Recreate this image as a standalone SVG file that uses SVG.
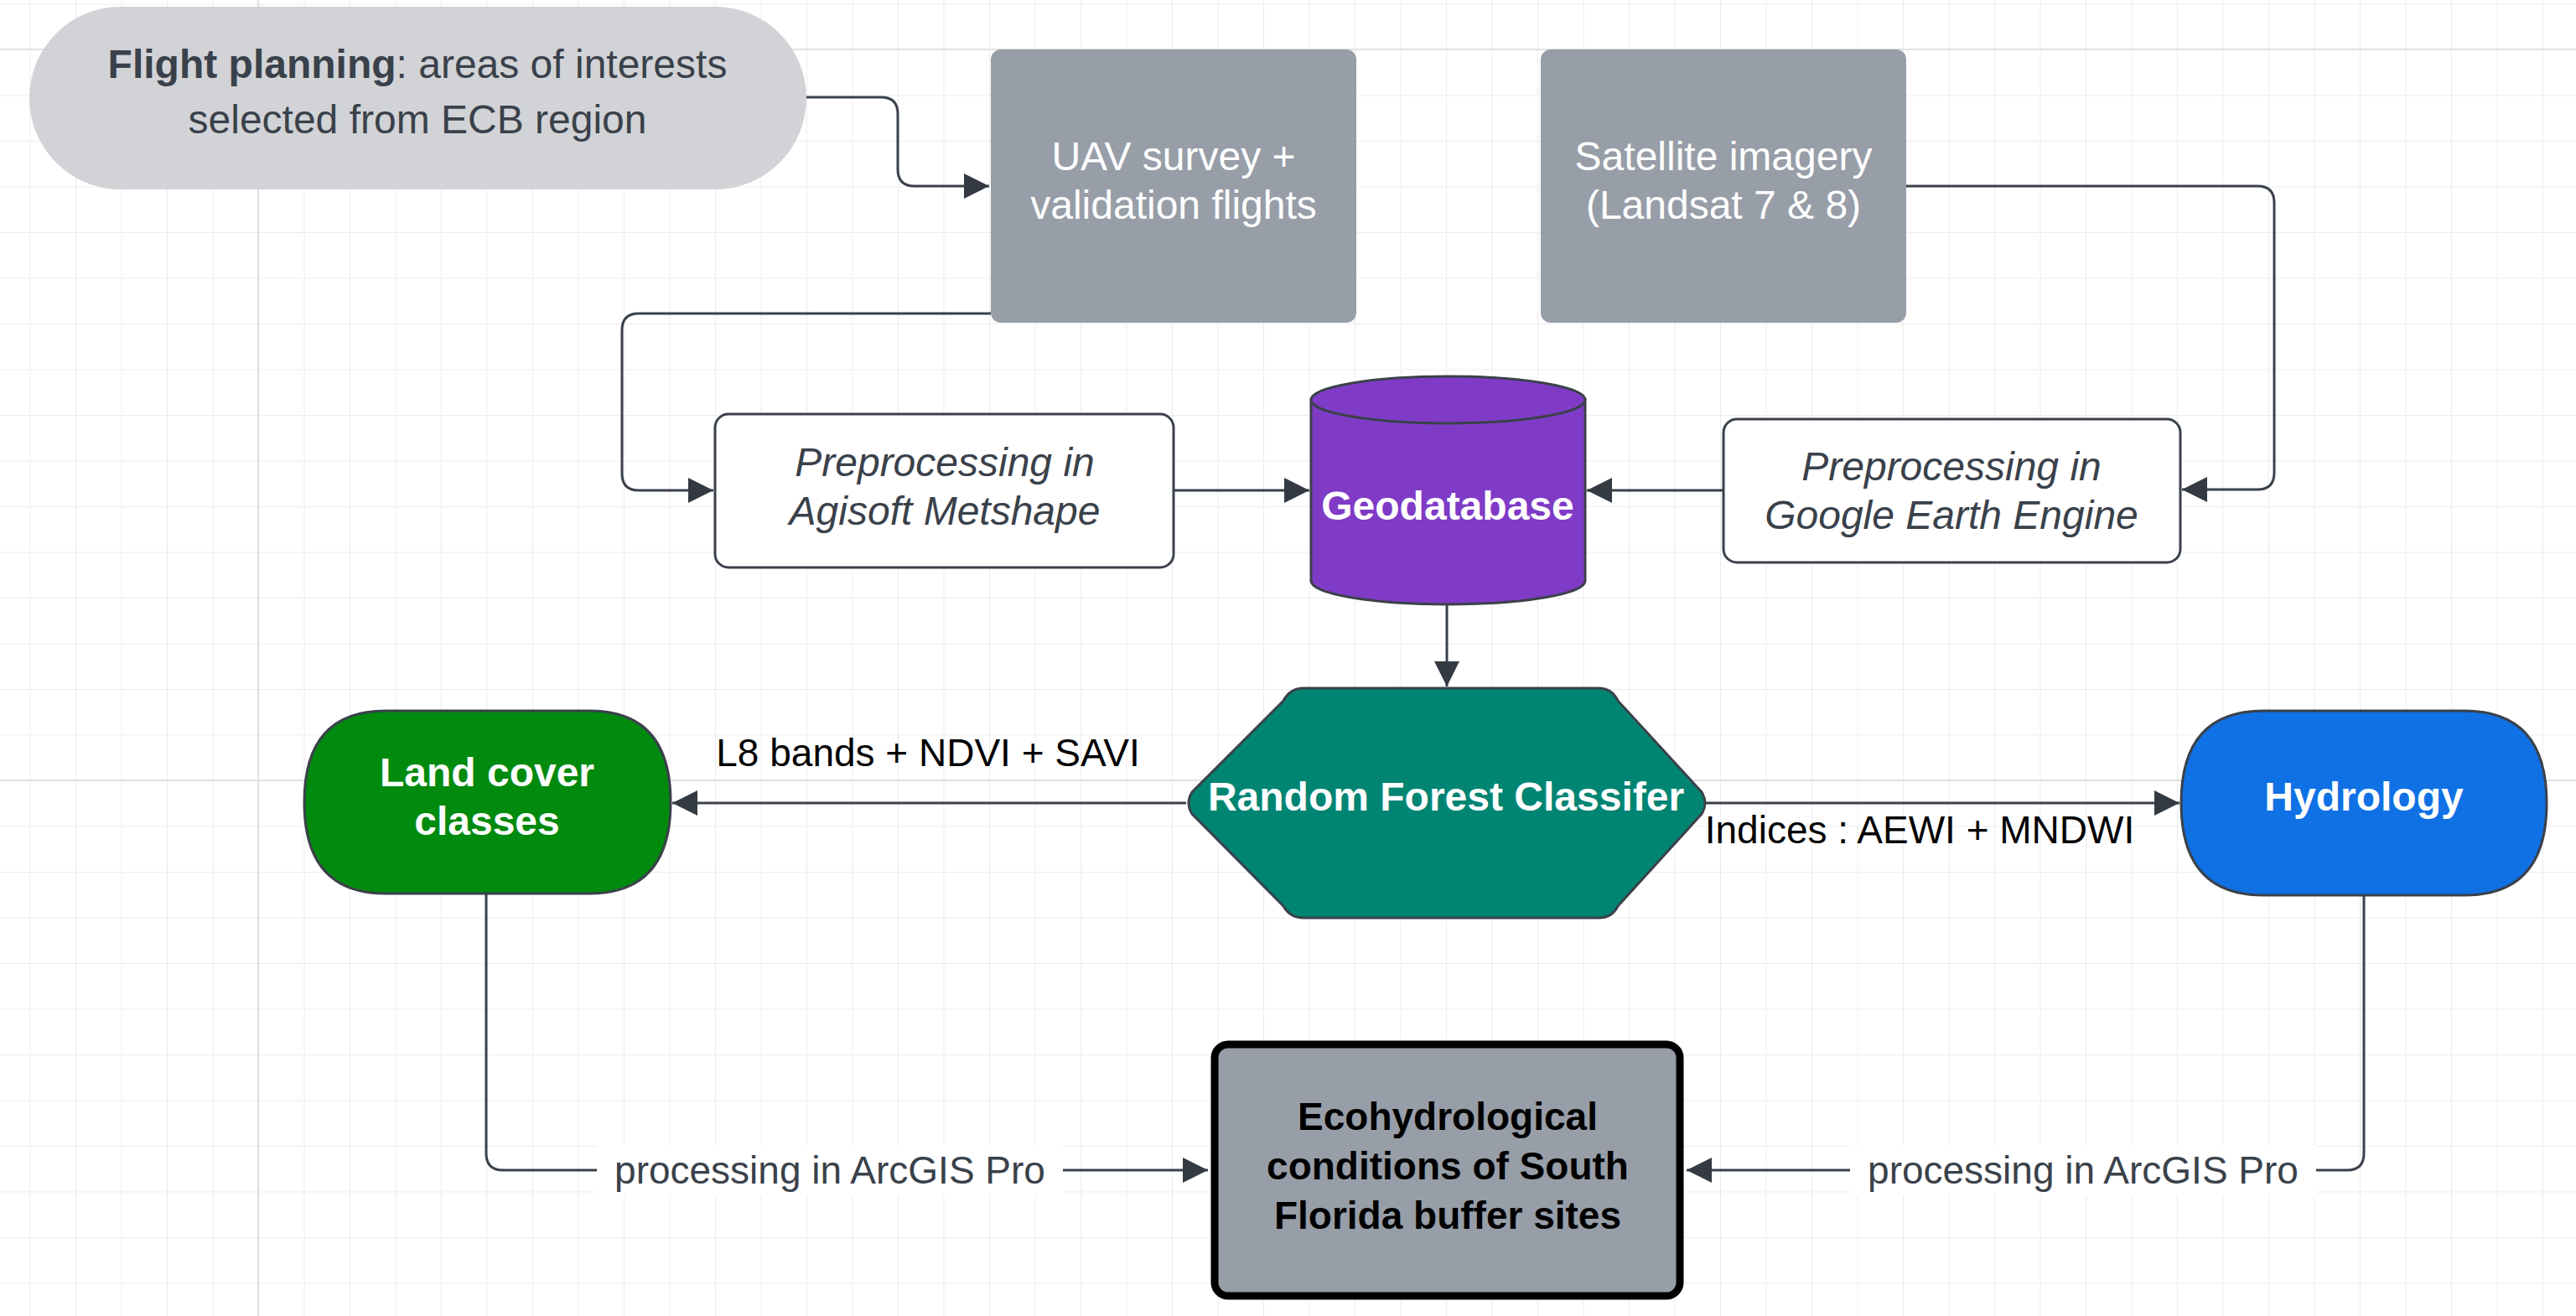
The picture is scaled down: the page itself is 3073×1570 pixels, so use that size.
<svg xmlns="http://www.w3.org/2000/svg" width="3073" height="1570" viewBox="0 0 3073 1570">
<defs>
<pattern id="g" x="35.5" y="4.5" width="54.5" height="54.5" patternUnits="userSpaceOnUse">
<path d="M0 0V54.5M0 0H54.5" fill="none" stroke="#ececec" stroke-width="2"/>
</pattern>
<marker id="ar" viewBox="0 0 10 10" refX="10" refY="5" markerWidth="42" markerHeight="30" markerUnits="userSpaceOnUse" orient="auto">
<path d="M0 0L10 5L0 10Z" fill="#343a42"/>
</marker>
</defs>
<style>
text{font-family:"Liberation Sans",Arial,sans-serif;text-anchor:middle}
.c{fill:none;stroke:#3a414a;stroke-width:3;marker-end:url(#ar)}
.dk{fill:#3a414a;font-size:48px}
.wt{fill:#fff;font-size:48px}
.wb{fill:#fff;font-size:48px;font-weight:bold}
.lb{fill:#000;font-size:46px}
.gl{fill:#3a414a;font-size:46px}
</style>
<rect width="3073" height="1570" fill="#fff"/>
<rect width="3073" height="1570" fill="url(#g)"/>
<path d="M308 0V1570M0 59H3073M0 931H3073" stroke="#e0e0e0" stroke-width="2"/>
<g id="connectors">
<path class="c" d="M962 116H1051Q1071 116 1071 136V202Q1071 222 1091 222H1180"/>
<path class="c" d="M1182 374H762Q742 374 742 394V565Q742 585 762 585H851"/>
<path class="c" d="M1400 585H1562"/>
<path class="c" d="M2056 585H1893"/>
<path class="c" d="M2274 222H2693Q2713 222 2713 242V564Q2713 584 2693 584H2603"/>
<path class="c" d="M1726 721V819"/>
<path class="c" d="M1415 958H802"/>
<path class="c" d="M2035 958H2600"/>
<path class="c" d="M580 1066V1376Q580 1396 600 1396H1441"/>
<path class="c" d="M2820 1068V1376Q2820 1396 2800 1396H2012"/>
<rect x="712" y="1366" width="556" height="60" fill="#fff"/>
<rect x="2207" y="1366" width="556" height="60" fill="#fff"/>
<text class="gl" x="990" y="1412">processing in ArcGIS Pro</text>
<text class="gl" x="2485" y="1412">processing in ArcGIS Pro</text>
<text class="lb" x="1107" y="914">L8 bands + NDVI + SAVI</text>
<text class="lb" x="2290" y="1006">Indices : AEWI + MNDWI</text>
</g>
<g id="flight">
<rect x="35" y="8" width="927" height="218" rx="109" fill="#d1d3d6"/>
<text class="dk" x="498" y="93"><tspan font-weight="bold">Flight planning</tspan>: areas of interests</text>
<text class="dk" x="498" y="159">selected from ECB region</text>
</g>
<g id="uav">
<rect x="1182" y="59" width="436" height="326" rx="12" fill="#979ea8"/>
<text class="wt" x="1400" y="203">UAV survey +</text>
<text class="wt" x="1400" y="261">validation flights</text>
</g>
<g id="satellite">
<rect x="1838" y="59" width="436" height="326" rx="12" fill="#979ea8"/>
<text class="wt" x="2056" y="203">Satellite imagery</text>
<text class="wt" x="2056" y="261">(Landsat 7 &amp; 8)</text>
</g>
<g id="agisoft">
<rect x="853" y="494" width="547" height="183" rx="16" fill="#fff" stroke="#3a414a" stroke-width="3"/>
<text class="dk" x="1127" y="568" font-style="italic">Preprocessing in</text>
<text class="dk" x="1127" y="626" font-style="italic">Agisoft Metshape</text>
</g>
<g id="gee">
<rect x="2056" y="500" width="545" height="171" rx="16" fill="#fff" stroke="#3a414a" stroke-width="3"/>
<text class="dk" x="2328" y="573" font-style="italic">Preprocessing in</text>
<text class="dk" x="2328" y="631" font-style="italic">Google Earth Engine</text>
</g>
<g id="geodatabase">
<path d="M1564 477V693A163.5 28 0 0 0 1891 693V477Z" fill="#7f3bc6" stroke="#3a414a" stroke-width="3"/>
<ellipse cx="1727.5" cy="477" rx="163.5" ry="28" fill="#7f3bc6" stroke="#3a414a" stroke-width="3"/>
<text class="wb" x="1727" y="620">Geodatabase</text>
</g>
<g id="rf">
<path d="M1555 821H1907Q1923 821 1930 836L2030 945Q2038 958 2030 971L1930 1081Q1923 1095 1907 1095H1555Q1539 1095 1531 1081L1422 971Q1414 958 1422 945L1531 836Q1539 821 1555 821Z" fill="#008573" stroke="#3a414a" stroke-width="3"/>
<text class="wb" x="1725" y="967" font-size="46">Random Forest Classifer</text>
</g>
<g id="landcover">
<path d="M460 848H703Q800 848 800 957Q800 1066 703 1066H460Q363 1066 363 957Q363 848 460 848Z" fill="#008a0e" stroke="#3a414a" stroke-width="3"/>
<text class="wb" x="581" y="938" font-size="46">Land cover</text>
<text class="wb" x="581" y="996" font-size="46">classes</text>
</g>
<g id="hydrology">
<path d="M2700 848H2940Q3038 848 3038 958Q3038 1068 2940 1068H2700Q2602 1068 2602 958Q2602 848 2700 848Z" fill="#1071e5" stroke="#3a414a" stroke-width="3"/>
<text class="wb" x="2820" y="967" font-size="46">Hydrology</text>
</g>
<g id="eco">
<rect x="1449" y="1246" width="555" height="300" rx="16" fill="#979ea8" stroke="#000" stroke-width="9"/>
<text x="1727" y="1348" font-size="46" font-weight="bold" fill="#000">Ecohydrological</text>
<text x="1727" y="1407" font-size="46" font-weight="bold" fill="#000">conditions of South</text>
<text x="1727" y="1466" font-size="46" font-weight="bold" fill="#000">Florida buffer sites</text>
</g>
</svg>
